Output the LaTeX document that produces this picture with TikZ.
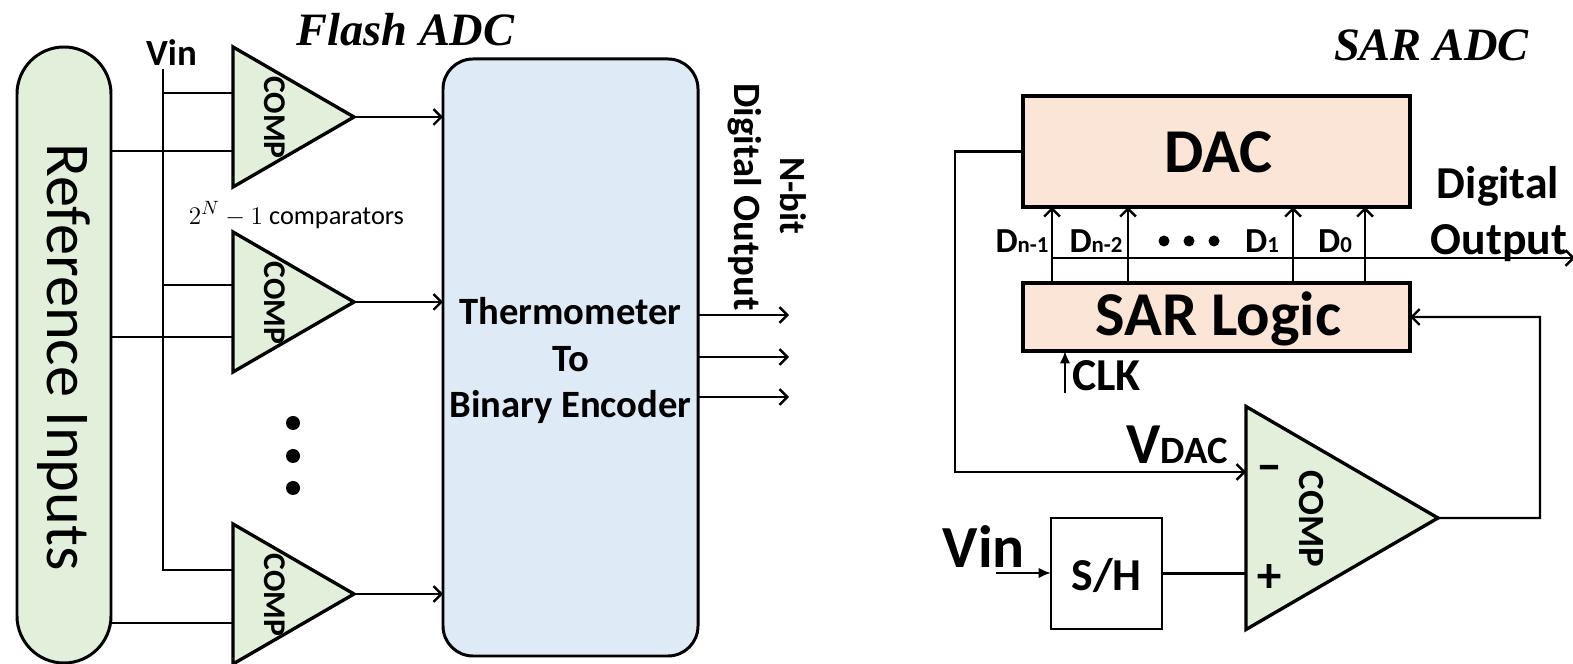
\documentclass[tikz,border=0pt]{standalone}
\usepackage{fontspec}
\setmainfont{Carlito}
\newfontfamily\titlefont{Liberation Serif}
\newfontfamily\heavyfont[FakeBold=3]{Carlito}
\usetikzlibrary{arrows.meta,positioning,shapes.geometric,calc}
\definecolor{compgreen}{RGB}{226,239,218}
\definecolor{encblue}{RGB}{222,234,246}
\definecolor{logicpeach}{RGB}{251,229,214}
\newcommand{\fsz}[1]{\fontsize{#1}{#1}\selectfont}
\newcommand{\biglabel}[3]{{\fsz{#1}#2}{\fsz{13}#3}}

\begin{document}
\begin{tikzpicture}[
  every node/.style={font=\bfseries},
  wire/.style={line width=1.35pt},
  arr/.style={
    wire,
    -{Straight Barb[length=4.5pt,width=9pt]}
  },
  solidarr/.style={
    wire,
    -{Latex[length=7pt,width=6pt]}
  },
  comparator/.style={
    draw,
    fill=compgreen,
    line width=1.9pt,
    isosceles triangle,
    isosceles triangle stretches,
    shape border rotate=0,
    inner sep=0pt,
    outer sep=0pt,
    anchor=apex
  },
  flashcomp/.style={comparator,minimum height=2.42cm,minimum width=2.8cm},
  comptext/.style={rotate=-90,inner sep=0pt,font=\fsz{18}\bfseries},
  logicbox/.style={
    draw,
    fill=logicpeach,
    line width=1.9pt,
    minimum width=7.74cm,
    inner sep=0pt,
    outer sep=0pt
  },
  title/.style={font=\titlefont\fsz{26.4}\bfseries\itshape,inner sep=0pt},
  bitlabel/.style={anchor=base,inner sep=0pt},
  signlabel/.style={inner sep=0pt,font=\heavyfont\fsz{27}},
  dot/.style={circle,fill=black,inner sep=0pt,minimum size=#1}
]
\useasboundingbox (0,0) rectangle (31.46,13.28);

% Flash ADC
\node[title] (flashtitle) at (8.11,12.68) {Flash ADC};

\node[draw, fill=compgreen, line width=1.7pt, rotate=-90, rounded corners=0.94cm,
  minimum width=12.32cm, minimum height=1.88cm, inner sep=0pt, outer sep=0pt,
  font=\fsz{35.5}] (refin) at (1.28,6.18) {\hspace{2.2pt}Reference Inputs};

\node[flashcomp] (comp1) at (7.08,10.94) {};
\node[flashcomp] (comp2) at (7.08,7.24) {};
\node[flashcomp] (comp3) at (7.08,1.40) {};

\node[comptext] (lbl1) at ($(comp1.apex)+(-1.58,-0.01)$) {COMP};
\node[comptext] (lbl2) at ($(comp2.apex)+(-1.58,-0.02)$) {COMP};
\node[comptext] (lbl3) at ($(comp3.apex)+(-1.58,-0.02)$) {COMP};

\node[draw, fill=encblue, line width=1.7pt, rounded corners=0.6cm,
  minimum width=5.1cm, minimum height=11.94cm, inner sep=0pt, outer sep=0pt] (enc) at (11.41,6.13) {};
\node[inner sep=0pt, align=center, font=\fontsize{22}{26.5}\selectfont\bfseries] (enctext)
  at ($(enc)+(0,-0.06)$) {Thermometer\\To\\Binary Encoder};

% Vin bus
\node[inner sep=0pt, font=\fsz{21}\bfseries] (vinflash) at (3.43,12.22) {Vin};
\coordinate (vintop) at (3.26,11.9);
\coordinate (vinbot) at (3.26,1.88);
\draw[wire] (vintop) -- (vinbot) -- (vinbot -| comp3.left corner);
\draw[wire] (vintop |- 0,11.42) -- (comp1.left corner |- 0,11.42);
\draw[wire] (vintop |- 0,7.58) -- (comp2.left corner |- 0,7.58);

% Reference lines
\draw[wire] (refin.north |- 0,10.26) -- (comp1.left corner |- 0,10.26);
\draw[wire] (refin.north |- 0,6.54) -- (comp2.left corner |- 0,6.54);
\draw[wire] (refin.north |- 0,0.82) -- (comp3.left corner |- 0,0.82);

% Comparator outputs
\foreach \c in {comp1,comp2,comp3}
  \draw[arr] (\c.apex) -- (\c.apex -| enc.west);

\node[inner sep=0pt, font=\fsz{15}\mdseries] (count) at (5.93,8.98) {$2^N-1$ comparators};

\node[dot=0.28cm] (dota) at (5.86,4.82) {};
\node[dot=0.28cm] (dotb) at (5.86,4.16) {};
\node[dot=0.28cm] (dotc) at (5.86,3.52) {};

% Encoder outputs
\foreach \y in {6.98,6.14,5.34}
  \draw[arr] (enc.east |- 0,\y) -- (15.78,\y);
\node[rotate=-90, inner sep=0pt, font=\fsz{22}\bfseries] (digout) at (14.9,9.34) {Digital Output};
\node[rotate=-90, inner sep=0pt, font=\fsz{21}\bfseries] (nbit) at (15.86,9.36) {N-bit};

% SAR ADC
\node[title] (sartitle) at (28.63,12.38) {SAR ADC};

\node[logicbox, minimum height=2.22cm, text height=26pt, text depth=1.6pt,
  font=\fsz{35.5}\bfseries] (dac) at (24.33,10.25) {\hspace{2.2pt}DAC};
\node[logicbox, minimum height=1.36cm, below=1.52cm of dac, text height=25pt, text depth=4pt,
  font=\fsz{35.5}\bfseries] (sar) {\hspace{2.2pt}SAR Logic};

\node[comparator, minimum height=3.84cm, minimum width=4.46cm] (compsar) at (28.76,2.92) {};
\node[comptext, font=\fsz{21}\bfseries] (lblsar) at (26.22,2.9) {COMP};
\node[signlabel] (minus) at (25.38,3.82) {–};
\node[signlabel] (plus) at (25.38,1.72) {+};

\node[draw, fill=white, line width=1.35pt, minimum size=2.22cm, inner sep=0pt, outer sep=0pt,
  text height=21pt, text depth=1.5pt, font=\fsz{26}\bfseries] (sh) at (22.13,1.81) {S/H};

% Bit lines
\coordinate (busend) at (31.5,8.12);
\draw[wire, -{Straight Barb[length=4.5pt,width=9pt]}] (21.04,0 |- busend) -- (busend);
\foreach \x in {21.04,22.56,25.86,27.30}
  \draw[arr] (\x,0 |- sar.north) -- (\x,0 |- dac.south);

\node[bitlabel] (dn1) at (20.44,8.22) {\biglabel{20}{D}{n-1}};
\node[bitlabel] (dn2) at (21.92,8.22) {\biglabel{20}{D}{n-2}};
\node[bitlabel] (d1) at (25.24,8.22) {\biglabel{20}{D}{1}};
\node[bitlabel] (d0) at (26.70,8.22) {\biglabel{20}{D}{0}};
\node[dot=0.22cm] (dotd) at (23.28,8.46) {};
\node[dot=0.22cm] (dote) at (23.78,8.46) {};
\node[dot=0.22cm] (dotf) at (24.28,8.46) {};

\node[bitlabel, font=\fsz{26}\bfseries] (digital) at (29.96,9.3) {Digital};
\node[bitlabel, font=\fsz{26}\bfseries] (output) at (29.98,8.18) {Output};

% Clock
\coordinate (clksrc) at (21.3,5.42);
\draw[solidarr] (clksrc) -- (clksrc |- sar.south);
\node[bitlabel, font=\fsz{26}\bfseries] (clk) at (22.13,5.46) {CLK};

% Feedback
\coordinate (fb) at (19.1,3.84);
\draw[arr] (dac.west) -| (fb) -- (compsar.left corner |- fb);
\node[bitlabel] (vdac) at (23.54,4.0) {{\fsz{33}V}{\fsz{22}DAC}};

\coordinate (ret) at (30.8,6.94);
\draw[arr] (compsar.apex) -| (ret) -- (sar.east);

% Vin input
\coordinate (vinsrc) at (19.92,1.82);
\draw[solidarr] (vinsrc) -- (vinsrc -| sh.west);
\node[bitlabel, font=\fsz{34}\bfseries] (vinsar) at (19.68,1.92) {Vin};
\draw[wire] (sh.east) -- (compsar.left corner |- sh.east);

\end{tikzpicture}
\end{document}
